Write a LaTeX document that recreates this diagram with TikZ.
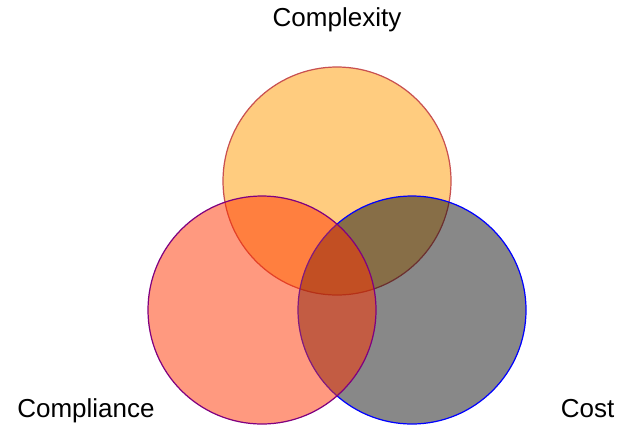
\documentclass[tikz,border=0pt]{standalone}
\usepackage{fontspec}
\setmainfont{Liberation Sans}
\definecolor{cplxfill}{RGB}{255,153,0}
\definecolor{cplxline}{RGB}{200,80,80}
\definecolor{cmplfill}{RGB}{255,51,0}
\definecolor{cmplline}{RGB}{128,0,128}
\definecolor{costfill}{RGB}{17,17,17}
\definecolor{costline}{RGB}{0,0,255}

\begin{document}
\begin{tikzpicture}[set/.style={line width=0.35pt, fill opacity=0.5}, setlabel/.style={anchor=base, inner sep=0pt, font=\fontsize{7.4}{9}\selectfont}]
	\useasboundingbox (0, 0) rectangle (6.27, 4.24);
	% the three sets, drawn top, right, left
	\draw[set, draw=cplxline, fill=cplxfill] (3.37, 2.43) circle (1.14);
	\draw[set, draw=costline, fill=costfill] (4.12, 1.14) circle (1.14);
	\draw[set, draw=cmplline, fill=cmplfill] (2.62, 1.14) circle (1.14);
	\node[setlabel] (complexity) at (3.37, 3.97) {Complexity};
	\node[setlabel] (compliance) at (0.86, 0.07) {Compliance};
	\node[setlabel] (cost) at (5.875, 0.07) {Cost};
\end{tikzpicture}
\end{document}
